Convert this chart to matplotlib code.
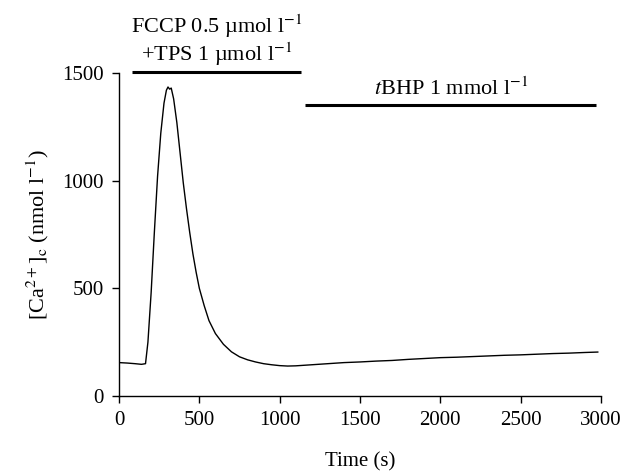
import matplotlib
matplotlib.use('Agg')
import matplotlib.pyplot as plt

# trace: time (s) vs [Ca2+]c (nmol l-1)
time_s = [0, 50, 100, 140, 165, 180, 200, 220, 240, 260, 280, 295, 305, 315, 325,
          340, 360, 380, 400, 420, 440, 460, 480, 500, 530, 560, 600, 650, 700, 750,
          800, 850, 900, 950, 1000, 1050, 1100, 1200, 1300, 1400, 1500, 1600, 1700,
          1800, 1900, 2000, 2100, 2200, 2300, 2400, 2500, 2600, 2700, 2800, 2900, 2980]
ca_conc = [155, 153, 150, 147, 150, 250, 480, 760, 1020, 1220, 1360, 1420, 1435, 1425, 1430,
           1380, 1270, 1130, 990, 870, 760, 660, 575, 500, 420, 350, 290, 240, 205, 182,
           168, 158, 150, 145, 141, 139, 140, 145, 150, 155, 158, 162, 165,
           170, 174, 178, 180, 183, 186, 189, 191, 194, 197, 199, 202, 204]

# treatment periods (start, end in s) and bar heights
fccp_period = [80, 1135]
fccp_level = 1505
tbhp_period = [1160, 2970]
tbhp_level = 1352

plt.rcParams['font.family'] = ['Liberation Serif', 'DejaVu Serif']
plt.rcParams['mathtext.fontset'] = 'stix'

fig = plt.figure(figsize=(6.28, 4.74), dpi=100)
ax = fig.add_axes([0.1895, 0.1646, 0.7675, 0.6814])

ax.plot(time_s, ca_conc, color='black', linewidth=1.0)

ax.plot(fccp_period, [fccp_level, fccp_level], color='black', linewidth=2.2,
        clip_on=False, solid_capstyle='butt')
ax.plot(tbhp_period, [tbhp_level, tbhp_level], color='black', linewidth=2.2,
        clip_on=False, solid_capstyle='butt')

fccp_mid = sum(fccp_period) / 2
tbhp_mid = sum(tbhp_period) / 2
ax.text(fccp_mid, 1685, 'FCCP 0.5 \u00b5mol l$^{-1}$', ha='center', va='baseline', fontsize=16)
ax.text(fccp_mid, 1555, '+TPS 1 \u00b5mol l$^{-1}$', ha='center', va='baseline', fontsize=16)
ax.text(tbhp_mid, 1400, '$\\it{t}$BHP 1 mmol l$^{-1}$', ha='center', va='baseline', fontsize=16)

ax.set_xlim(0, 3000)
ax.set_ylim(0, 1500)
ax.set_xticks([0, 500, 1000, 1500, 2000, 2500, 3000])
ax.set_yticks([0, 500, 1000, 1500])

for side in ['top', 'right']:
    ax.spines[side].set_visible(False)
for side in ['left', 'bottom']:
    ax.spines[side].set_linewidth(1.0)

ax.tick_params(axis='both', direction='out', length=5, width=1.0, labelsize=15, pad=6)

ax.set_xlabel('Time (s)', fontsize=15, labelpad=16)
ax.set_ylabel('[Ca$^{2+}$]$_\\mathrm{c}$ (nmol l$^{-1}$)', fontsize=16, labelpad=8)

fig.savefig('out.png', dpi=100)
